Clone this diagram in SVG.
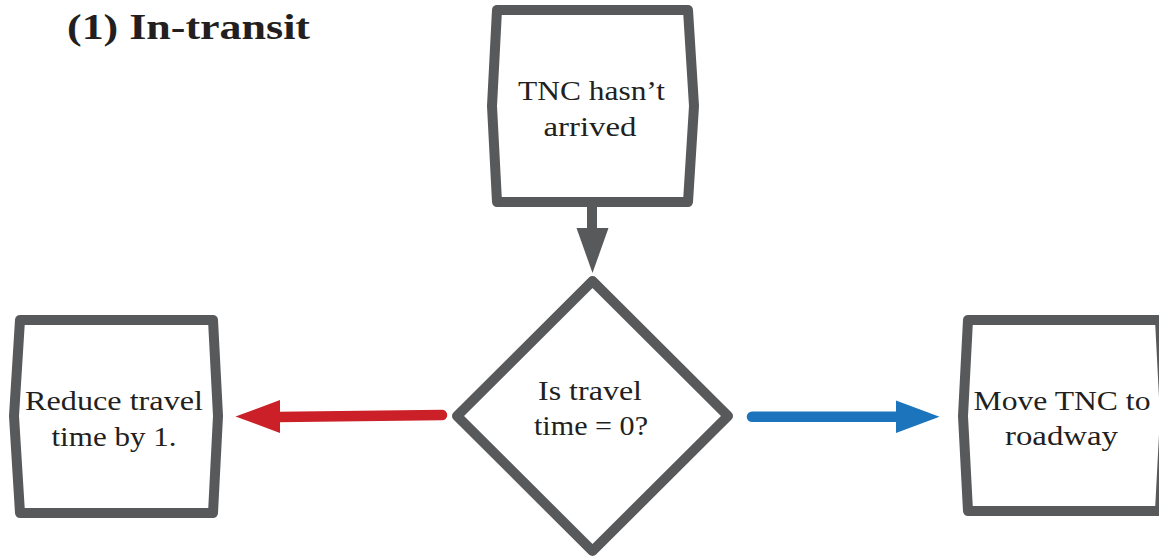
<svg xmlns="http://www.w3.org/2000/svg" width="1159" height="560" viewBox="0 0 1159 560">
<style>
.box{fill:#ffffff;stroke:#58595b;stroke-width:10;stroke-linejoin:round}
.t{font-family:"Liberation Serif","Times New Roman",serif;font-size:28px;fill:#231f20;text-anchor:middle}
.title{font-family:"Liberation Serif","Times New Roman",serif;font-size:36px;font-weight:bold;fill:#231f20}
</style>
<rect width="1159" height="560" fill="#ffffff"/>
<text class="title" x="67" y="39" textLength="243" lengthAdjust="spacingAndGlyphs">(1) In-transit</text>
<g id="connectors">
  <path d="M592 205 V232" stroke="#58595b" stroke-width="10" fill="none"/>
  <polygon points="576.5,228 608.5,228 592.5,273" fill="#58595b"/>
  <path d="M442 415 L278 417" stroke="#cb2027" stroke-width="10.5" stroke-linecap="round" fill="none"/>
  <polygon points="280,400 280,433 235.5,416.5" fill="#cb2027"/>
  <path d="M752 416.7 L898 416.7" stroke="#1c75bc" stroke-width="10.5" stroke-linecap="round" fill="none"/>
  <polygon points="896,400.5 896,433 939.5,416.7" fill="#1c75bc"/>
</g>
<g id="node-start">
  <polygon class="box" points="497,10 688,10 694,106 688,202 497,202 492,106"/>
  <text class="t" x="591.5" y="100" textLength="147" lengthAdjust="spacingAndGlyphs">TNC hasn’t</text>
  <text class="t" x="590" y="136" textLength="93" lengthAdjust="spacingAndGlyphs">arrived</text>
</g>
<g id="node-decision">
  <polygon class="box" points="592.5,281 728,416 592.5,551 457,416"/>
  <text class="t" x="590" y="400" textLength="104" lengthAdjust="spacingAndGlyphs">Is travel</text>
  <text class="t" x="591" y="435" textLength="114" lengthAdjust="spacingAndGlyphs">time = 0?</text>
</g>
<g id="node-reduce">
  <polygon class="box" points="20,320 213,320 218,416 213,513 20,513 14,416"/>
  <text class="t" x="114" y="410" textLength="178" lengthAdjust="spacingAndGlyphs">Reduce travel</text>
  <text class="t" x="114" y="446" textLength="125" lengthAdjust="spacingAndGlyphs">time by 1.</text>
</g>
<g id="node-move">
  <polygon class="box" points="968,320 1160,320 1165,416 1160,511 968,511 963,416"/>
  <text class="t" x="1062" y="410" textLength="177" lengthAdjust="spacingAndGlyphs">Move TNC to</text>
  <text class="t" x="1061.5" y="445" textLength="113" lengthAdjust="spacingAndGlyphs">roadway</text>
</g>
</svg>
